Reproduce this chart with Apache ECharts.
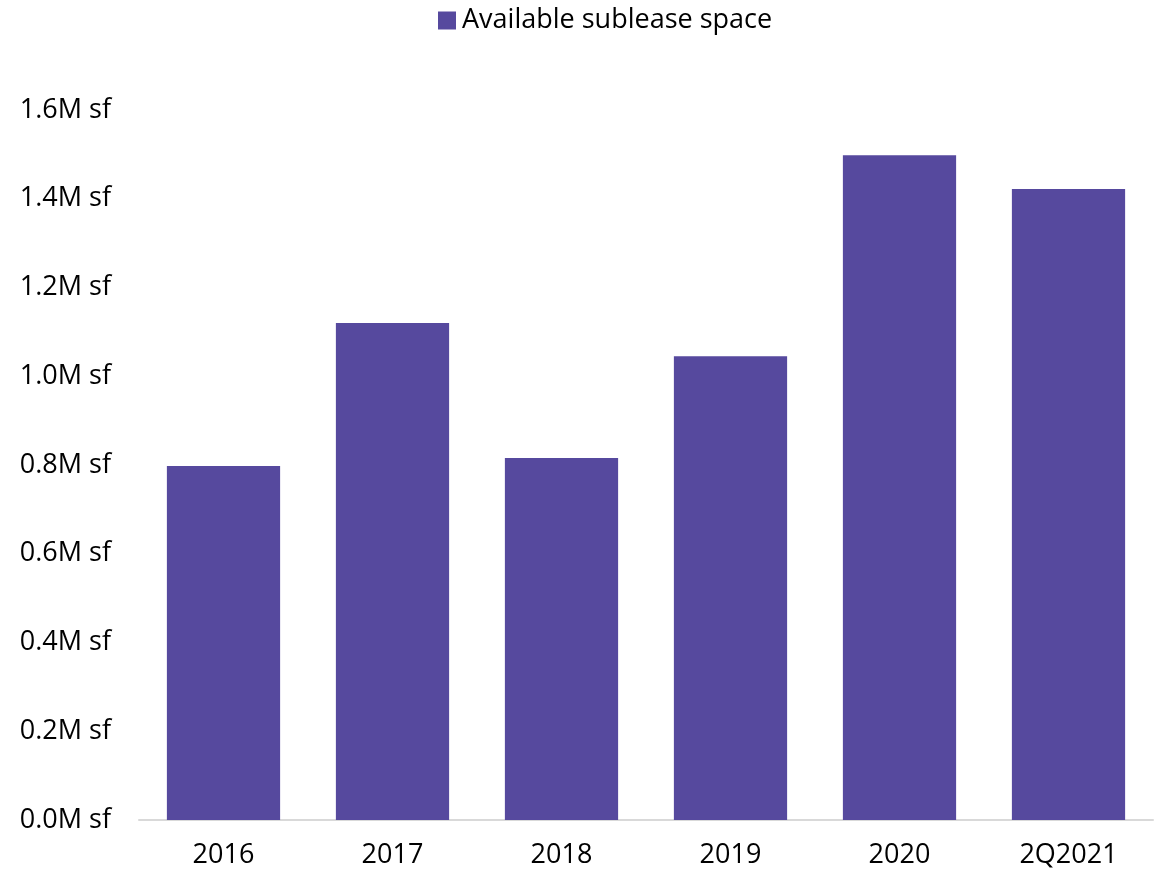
<!DOCTYPE html>
<html>
<head>
<meta charset="utf-8">
<script src="https://cdn.jsdelivr.net/npm/echarts@6/dist/echarts.min.js"></script>
<style>html,body{margin:0;padding:0;background:#fff}#c{width:1162px;height:875px}</style>
</head>
<body>
<div id="c"></div>
<script>
const categories = ['2016', '2017', '2018', '2019', '2020', '2Q2021'];
const sublease = [0.798, 1.12, 0.816, 1.045, 1.498, 1.422];
const seriesName = 'Available sublease space';

const chart = echarts.init(document.getElementById('c'));
chart.setOption({
  animation: false,
  textStyle: { fontFamily: 'Open Sans' },
  legend: {
    top: 2, left: 433,
    itemWidth: 18, itemHeight: 18, itemGap: 6,
    textStyle: { fontSize: 27, color: '#000', fontFamily: 'Open Sans', padding: [0, 0, 0, 1] },
    data: [{ name: seriesName, icon: 'rect' }]
  },
  grid: { left: 139, right: 9, top: 110, bottom: 55, containLabel: false },
  xAxis: {
    type: 'category', data: categories,
    axisLine: { lineStyle: { color: '#d9d9d9', width: 2 } },
    axisTick: { show: false },
    axisLabel: { fontSize: 27, color: '#000', margin: 22, fontFamily: 'Open Sans' }
  },
  yAxis: {
    type: 'value', min: 0, max: 1.6, interval: 0.2,
    splitLine: { show: false },
    axisLine: { show: false }, axisTick: { show: false },
    axisLabel: { fontSize: 27, color: '#000', margin: 28, fontFamily: 'Open Sans',
      formatter: v => v.toFixed(1) + 'M sf' }
  },
  series: [{
    name: seriesName, type: 'bar', data: sublease,
    barWidth: '67%',
    itemStyle: { color: '#56499e' }
  }]
});
</script>
</body>
</html>
